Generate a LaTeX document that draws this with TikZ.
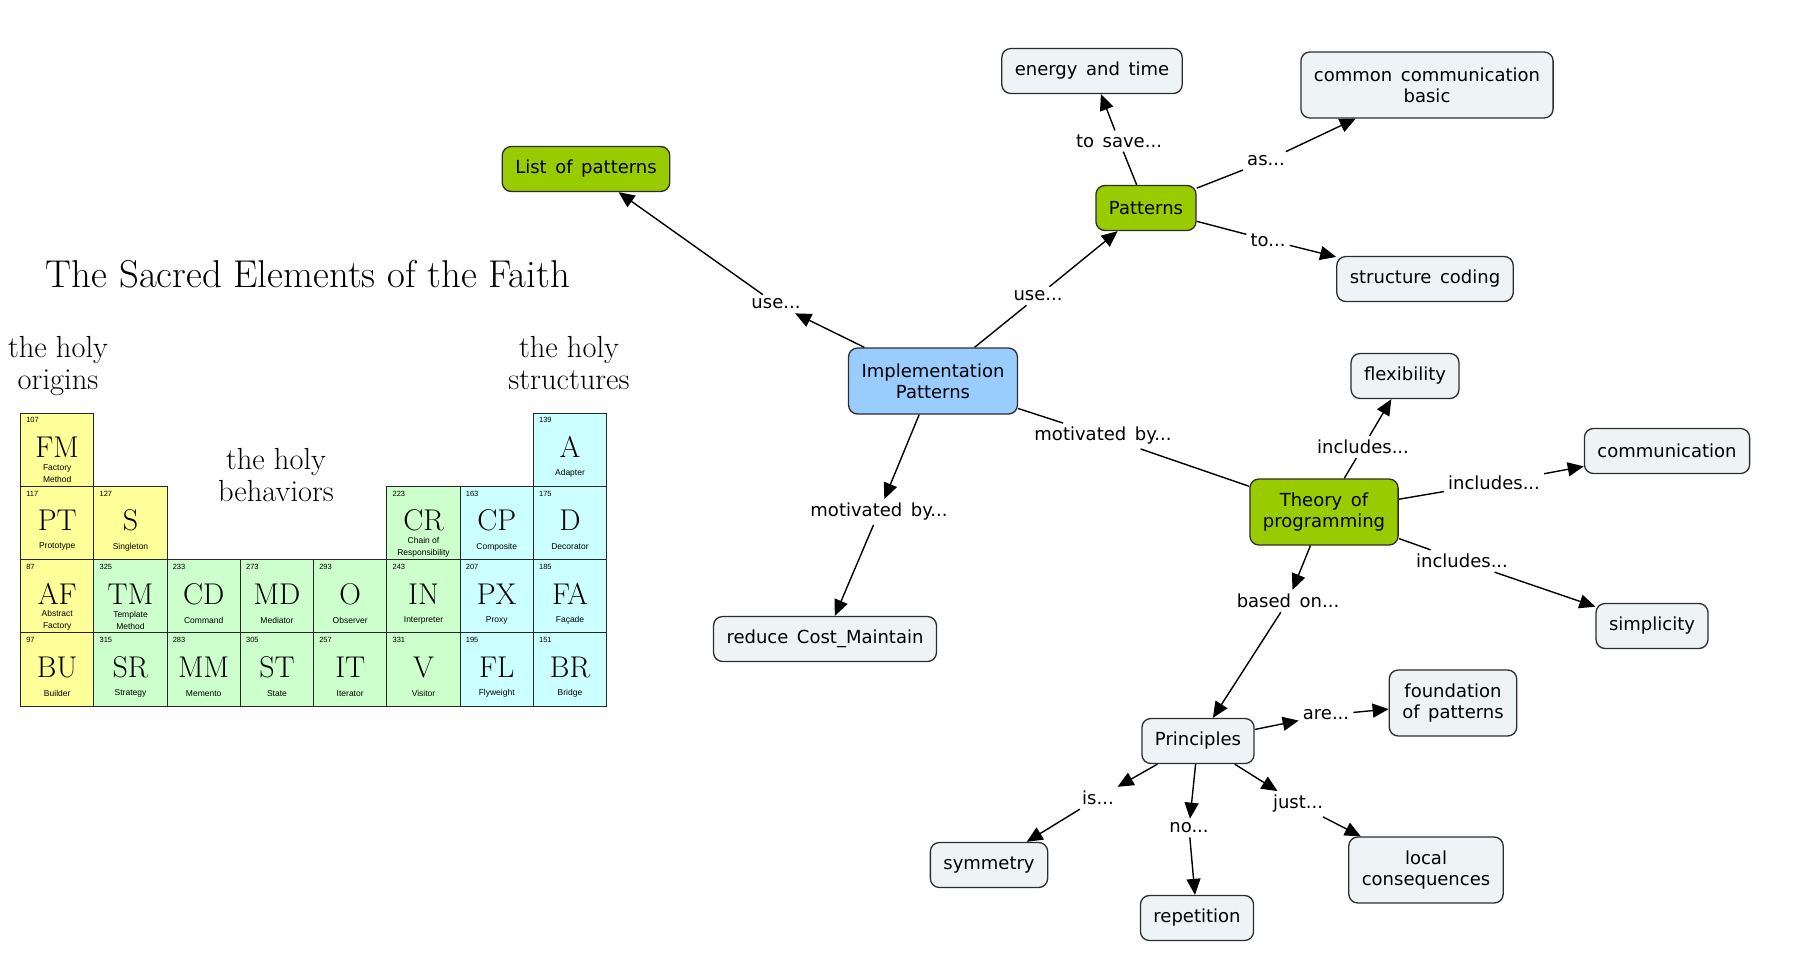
\documentclass[tikz,border=0pt]{standalone}
\usepackage{fontspec}
\newfontfamily\mapfont[WordSpace=1.5]{DejaVu Sans}
\newfontfamily\cellfont{Liberation Sans}
\usetikzlibrary{arrows.meta}

\definecolor{leaffill}{RGB}{238,244,246}
\definecolor{keygreen}{RGB}{153,204,0}
\definecolor{rootblue}{RGB}{153,204,255}
\definecolor{edgegray}{RGB}{45,45,45}
\definecolor{origincol}{RGB}{255,255,153}
\definecolor{behavecol}{RGB}{204,255,204}
\definecolor{structcol}{RGB}{204,255,255}

\tikzset{
  concept/.style={draw=edgegray, line width=1.3pt, rounded corners=9pt, fill=leaffill,
    font=\mapfont\fontsize{18}{21}\selectfont, align=center,
    inner xsep=13pt, inner ysep=12pt, minimum height=45pt},
  keyconcept/.style={concept, fill=keygreen},
  rootconcept/.style={concept, fill=rootblue},
  twoline/.style={minimum height=66pt},
  linkword/.style={font=\mapfont\fontsize{18}{21}\selectfont, inner sep=4pt},
  link/.style={line width=1.4pt},
  linkto/.style={link, -{Triangle[length=16pt,width=14pt]}},
  cell/.style={draw=black!85, line width=0.9pt, minimum size=73.25pt, inner sep=0pt},
  elnum/.style={anchor=north west, inner sep=0pt, font=\cellfont\fontsize{7.5}{8}\selectfont},
  elsym/.style={anchor=base, inner sep=0pt, font=\fontsize{30}{31}\selectfont},
  elname/.style={align=center, inner sep=0pt, font=\cellfont\fontsize{8.5}{12}\selectfont},
  heading/.style={anchor=base, font=\fontsize{38.8}{42}\selectfont},
  holy/.style={align=center, font=\fontsize{30.5}{32}\selectfont}
}

% one element of the table: name, centre, colour, number, symbol, pattern
\newcommand{\elem}[6]{%
  \node (el-#1) [cell, fill=#3] at (#2) {};
  \node (el-#1-num)  [elnum] at ([xshift=6pt,yshift=-5pt]el-#1.north west) {#4};
  \node (el-#1-sym)  [elsym] at ([yshift=-45pt]el-#1.north) {#5};
  \node (el-#1-name) [elname] at ([yshift=-61pt]el-#1.north) {#6};
}

\begin{document}
\begin{tikzpicture}[x=1pt, y=-1pt]
\useasboundingbox (0,0) rectangle (1803,974);

% The periodic table
\node (faith)       [heading]     at (308,287)   {The Sacred Elements of the Faith};
\node (origins)     [holy]        at (58,366)    {the holy\\origins};
\node (structures)  [holy]        at (569,363)   {the holy\\structures};
\node (behaviors)   [holy]        at (276,475)   {the holy\\behaviors};

\elem{fm}{57.2,449.6}{origincol}{107}{FM}{Factory\\Method}
\elem{a}{570,449.6}{structcol}{139}{A}{Adapter}

\elem{pt}{57.2,522.9}{origincol}{117}{PT}{Prototype}
\elem{s}{130.5,522.9}{origincol}{127}{S}{Singleton}
\elem{cr}{423.5,522.9}{behavecol}{223}{CR}{Chain of\\Responsibility}
\elem{cp}{496.7,522.9}{structcol}{163}{CP}{Composite}
\elem{d}{570,522.9}{structcol}{175}{D}{Decorator}

\elem{af}{57.2,596.1}{origincol}{87}{AF}{Abstract\\Factory}
\elem{tm}{130.5,596.1}{behavecol}{325}{TM}{Template\\Method}
\elem{cd}{203.7,596.1}{behavecol}{233}{CD}{Command}
\elem{md}{277,596.1}{behavecol}{273}{MD}{Mediator}
\elem{o}{350.2,596.1}{behavecol}{293}{O}{Observer}
\elem{in}{423.5,596.1}{behavecol}{243}{IN}{Interpreter}
\elem{px}{496.7,596.1}{structcol}{207}{PX}{Proxy}
\elem{fa}{570,596.1}{structcol}{185}{FA}{Façade}

\elem{bu}{57.2,669.4}{origincol}{97}{BU}{Builder}
\elem{sr}{130.5,669.4}{behavecol}{315}{SR}{Strategy}
\elem{mm}{203.7,669.4}{behavecol}{283}{MM}{Memento}
\elem{st}{277,669.4}{behavecol}{305}{ST}{State}
\elem{it}{350.2,669.4}{behavecol}{257}{IT}{Iterator}
\elem{v}{423.5,669.4}{behavecol}{331}{V}{Visitor}
\elem{fl}{496.7,669.4}{structcol}{195}{FL}{Flyweight}
\elem{br}{570,669.4}{structcol}{151}{BR}{Bridge}

% The concept map
\node (impl)        [rootconcept, twoline] at (933,381)   {Implementation\\Patterns};
\node (listpat)     [keyconcept]  at (586,169)   {List of patterns};
\node (patterns)    [keyconcept]  at (1146,208)  {Patterns};
\node (energy)      [concept]     at (1092,71)   {energy and time};
\node (commbasic)   [concept, twoline] at (1427,85)   {common communication\\basic};
\node (structcode)  [concept]     at (1425,279)  {structure coding};
\node (theory)      [keyconcept, twoline] at (1324,512)  {Theory of\\programming};
\node (flex)        [concept]     at (1405,376)  {flexibility};
\node (comm)        [concept]     at (1667,451)  {communication};
\node (simp)        [concept]     at (1652,626)  {simplicity};
\node (reduce)      [concept]     at (825,639)   {reduce Cost\_Maintain};
\node (principles)  [concept]     at (1198,741)  {Principles};
\node (foundation)  [concept, twoline] at (1453,703)  {foundation\\of patterns};
\node (symmetry)    [concept]     at (989,865)   {symmetry};
\node (repetition)  [concept]     at (1197,918)  {repetition};
\node (localcons)   [concept, twoline] at (1426,870)  {local\\consequences};

% linking words
\node (use-a)       [linkword]    at (776,304)   {use...};
\node (use-b)       [linkword]    at (1038,296)  {use...};
\node (tosave)      [linkword]    at (1119,141)  {to save...};
\node (as)          [linkword]    at (1266,161)  {as...};
\node (to)          [linkword]    at (1268,240)  {to...};
\node (motiv-a)     [linkword]    at (1103,436)  {motivated by...};
\node (motiv-b)     [linkword]    at (879,512)   {motivated by...};
\node (incl-a)      [linkword]    at (1363,447)  {includes...};
\node (incl-b)      [linkword]    at (1494,483)  {includes...};
\node (incl-c)      [linkword]    at (1462,561)  {includes...};
\node (basedon)     [linkword]    at (1288,601)  {based on...};
\node (are)         [linkword]    at (1326,715)  {are...};
\node (is)          [linkword]    at (1098,798)  {is...};
\node (no)          [linkword]    at (1189,828)  {no...};
\node (just)        [linkword]    at (1298,804)  {just...};

\draw[linkto]       (impl) -- (use-a);
\draw[linkto]       (use-a) -- (listpat);
\draw[link]         (impl) -- (use-b);
\draw[linkto]       (use-b) -- (patterns);

\draw[link]         (patterns) -- (tosave);
\draw[linkto]       (tosave) -- (energy);
\draw[link]         (patterns) -- (as);
\draw[linkto]       (as) -- (commbasic);
\draw[link]         (patterns) -- (to);
\draw[linkto]       (to) -- (structcode);

\draw[link]         (impl) -- (motiv-a);
\draw[link]         (motiv-a) -- (theory);
\draw[linkto]       (impl) -- (motiv-b);
\draw[linkto]       (motiv-b) -- (reduce);

\draw[link]         (theory) -- (incl-a);
\draw[linkto]       (incl-a) -- (flex);
\draw[link]         (theory) -- (incl-b);
\draw[linkto]       (incl-b) -- (comm);
\draw[link]         (theory) -- (incl-c);
\draw[linkto]       (incl-c) -- (simp);
\draw[linkto]       (theory) -- (basedon);
\draw[linkto]       (basedon) -- (principles);

\draw[linkto]       (principles) -- (are);
\draw[linkto]       (are) -- (foundation);
\draw[linkto]       (principles) -- (is);
\draw[linkto]       (is) -- (symmetry);
\draw[linkto]       (principles) -- (no);
\draw[linkto]       (no) -- (repetition);
\draw[linkto]       (principles) -- (just);
\draw[linkto]       (just) -- (localcons);

\end{tikzpicture}
\end{document}
